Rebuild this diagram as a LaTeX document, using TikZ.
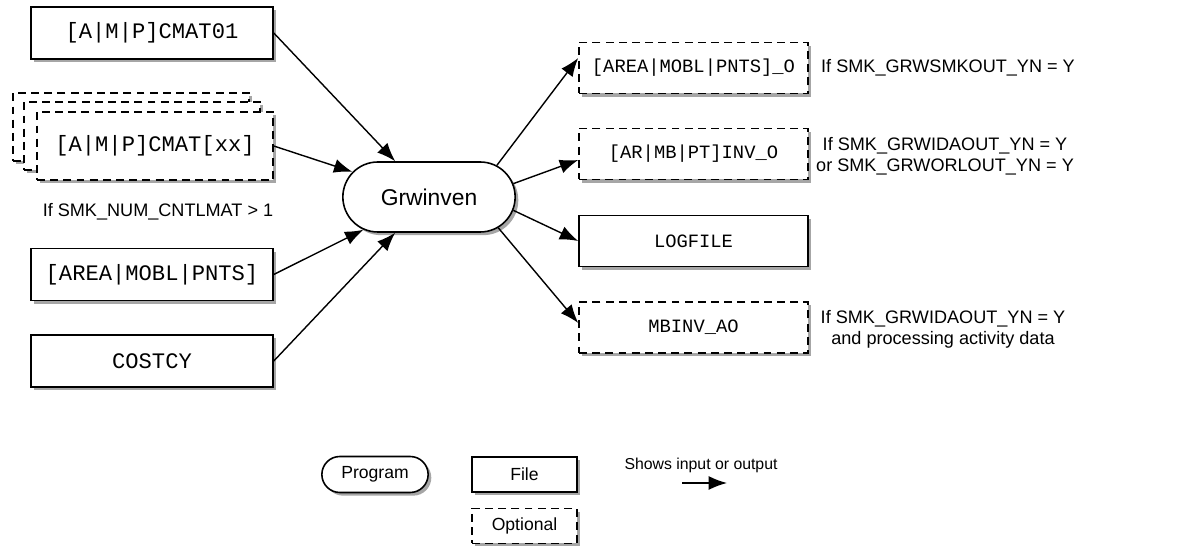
\documentclass[tikz,border=0pt]{standalone}
\usepackage{fontspec}
\setmainfont{Liberation Sans}
\setmonofont{Liberation Mono}
\usetikzlibrary{arrows.meta,shapes.misc,shadows}

\begin{document}
\begin{tikzpicture}[
  line width=0.9pt,  shade/.style={drop shadow={shadow xshift=1.8pt,shadow yshift=-1.8pt,fill=black,opacity=0.35}},  prog/.style={rounded rectangle,draw,fill=white,shade,minimum width=3.68cm,minimum height=1.4cm,font=\fontsize{13}{15}\selectfont},  infile/.style={rectangle,draw,fill=white,shade,minimum width=4.84cm,minimum height=1.04cm,font=\ttfamily\fontsize{12.6}{14}\selectfont},  outfile/.style={rectangle,draw,fill=white,shade,minimum width=4.58cm,minimum height=1.02cm,font=\ttfamily\fontsize{10.7}{12}\selectfont},  opt/.style={dash pattern=on 4.5pt off 3pt},  note/.style={align=center,font=\fontsize{10.3}{12}\selectfont},  legbox/.style={rectangle,draw,fill=white,shade,minimum width=2.1cm,minimum height=0.7cm,font=\fontsize{10}{12}\selectfont},  flow/.style={-{Latex[length=10.5pt,width=8pt]},line width=0.8pt}
]
  \useasboundingbox (0,0) rectangle (23.88,10.92);
  \node[prog] (grw) at (8.58,6.98) {Grwinven};
  \node[infile] (cmat01) at (3.04,10.26) {[A|M|P]CMAT01};
  \node[infile,opt,minimum width=4.72cm,minimum height=1.36cm] (cmatxxc) at (2.62,8.38) {};
  \node[infile,opt,minimum width=4.72cm,minimum height=1.36cm] (cmatxxb) at (2.84,8.20) {};
  \node[infile,opt,minimum width=4.72cm,minimum height=1.36cm] (cmatxx) at (3.10,8.00) {[A|M|P]CMAT[xx]};
  \node[note] (cntl) at (3.16,6.68) {If SMK\_NUM\_CNTLMAT > 1};
  \node[infile] (src) at (3.04,5.43) {[AREA|MOBL|PNTS]};
  \node[infile] (costcy) at (3.04,3.70) {COSTCY};
  \node[outfile,opt] (aro) at (13.87,9.56) {[AREA|MOBL|PNTS]\_O};
  \node[outfile,opt] (inv) at (13.87,7.84) {[AR|MB|PT]INV\_O};
  \node[outfile] (log) at (13.87,6.10) {LOGFILE};
  \node[outfile,opt] (mbinv) at (13.87,4.37) {MBINV\_AO};
  \node[note] (aronote) at (18.96,9.56) {If SMK\_GRWSMKOUT\_YN = Y};
  \node[note,inner sep=0pt] (invnote) at (18.90,7.80) {If SMK\_GRWIDAOUT\_YN = Y\\or SMK\_GRWORLOUT\_YN = Y};
  \node[note,inner sep=0pt] (mbnote) at (18.86,4.34) {If SMK\_GRWIDAOUT\_YN = Y\\and processing activity data};
  \draw[flow] (cmat01.east) -- (grw);
  \draw[flow] (cmatxx.east) -- (grw);
  \draw[flow] (src.east) -- (grw);
  \draw[flow] (costcy.east) -- (grw);
  \draw[flow] (grw.25) -- ([yshift=2mm]aro.west);
  \draw[flow] (grw.9) -- ([yshift=-1.2mm]inv.west);
  \draw[flow] (grw.-9) -- (log.west);
  \draw[flow] (grw.-24) -- ([yshift=0.9mm]mbinv.west);
  \node[prog,minimum width=2.36cm,minimum height=0.72cm,font=\fontsize{10}{12}\selectfont] (legprog) at (7.50,1.43) {Program};
  \node[legbox] (legfile) at (10.49,1.43) {File};
  \node[legbox,opt] (legopt) at (10.49,0.40) {Optional};
  \node[font=\fontsize{9}{11}\selectfont] (legflow) at (14.02,1.62) {Shows input or output};
  \coordinate (ls) at (13.64,1.26);
  \coordinate (le) at (14.54,1.26);
  \draw[flow] (ls) -- (le);
\end{tikzpicture}
\end{document}
